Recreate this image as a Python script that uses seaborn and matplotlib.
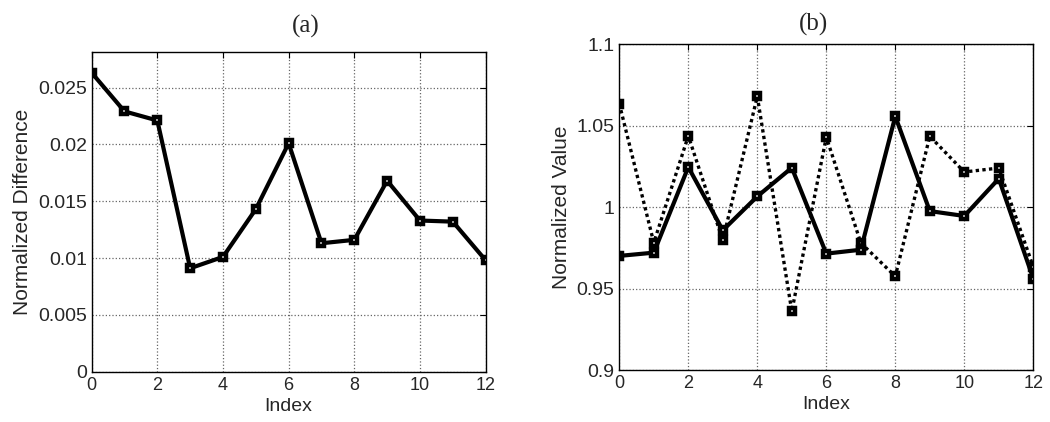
import pandas as pd
import matplotlib.pyplot as plt
import seaborn as sns

# values
index = list(range(13))
norm_diff = [0.0263, 0.0229, 0.0221, 0.0091, 0.0101, 0.0143, 0.0201,
             0.0113, 0.0116, 0.0168, 0.0133, 0.0132, 0.0098]
value_solid = [0.970, 0.972, 1.0245, 0.9857, 1.0065, 1.0241, 0.9714,
               0.9738, 1.0556, 0.9975, 0.9945, 1.0174, 0.956]
value_dotted = [1.0634, 0.9781, 1.0436, 0.9796, 1.0679, 0.936, 1.0429,
                0.978, 0.9575, 1.0434, 1.0215, 1.0239, 0.9632]

df_a = pd.DataFrame({'Index': index, 'diff': norm_diff})
df_b = pd.DataFrame({'Index': index, 'solid': value_solid, 'dotted': value_dotted})

sns.set_style('white')
plt.rcParams['font.family'] = ['Liberation Sans', 'DejaVu Sans']

fig = plt.figure(figsize=(10.5, 4.22), dpi=100)
ax1 = fig.add_axes([0.0873, 0.1192, 0.3752, 0.7569])
ax2 = fig.add_axes([0.5898, 0.1232, 0.3943, 0.7725])

mk = dict(marker='s', markersize=4.7, markerfacecolor='white',
          markeredgecolor='black', markeredgewidth=3.2)

sns.lineplot(x='Index', y='diff', data=df_a, ax=ax1, color='black',
             linewidth=3.0, **mk)
sns.lineplot(x='Index', y='dotted', data=df_b, ax=ax2, color='black',
             linewidth=2.4, linestyle=(0, (1, 1)), **mk)
sns.lineplot(x='Index', y='solid', data=df_b, ax=ax2, color='black',
             linewidth=3.0, **mk)

ax1.set_xlim(0, 12)
ax1.set_ylim(0, 0.0281)
ax1.set_yticks([0, 0.005, 0.01, 0.015, 0.02, 0.025])
ax1.set_yticklabels(['0', '0.005', '0.01', '0.015', '0.02', '0.025'])
ax1.set_ylabel('Normalized Difference', fontsize=15, labelpad=4)

ax2.set_xlim(0, 12)
ax2.set_ylim(0.9, 1.1)
ax2.set_yticks([0.9, 0.95, 1.0, 1.05, 1.1])
ax2.set_yticklabels(['0.9', '0.95', '1', '1.05', '1.1'])
ax2.set_ylabel('Normalized Value', fontsize=15, labelpad=4)

for ax, title, tx, pad in [(ax1, '(a)', 0.544, 14), (ax2, '(b)', 0.47, 10)]:
    ax.set_xticks(range(0, 13, 2))
    ax.set_xlabel('Index', fontsize=14, labelpad=3)
    ax.set_title(title, fontsize=18, family=['Liberation Serif'], x=tx, pad=pad)
    ax.grid(True, linestyle=':', color='#666666', linewidth=0.9)
    ax.tick_params(direction='in', length=4, top=True, right=True, color='black')
    ax.tick_params(axis='y', labelsize=14)
    ax.tick_params(axis='x', labelsize=13)
    for s in ax.spines.values():
        s.set_color('black')
        s.set_linewidth(1.0)

fig.savefig('out.png', dpi=100)
